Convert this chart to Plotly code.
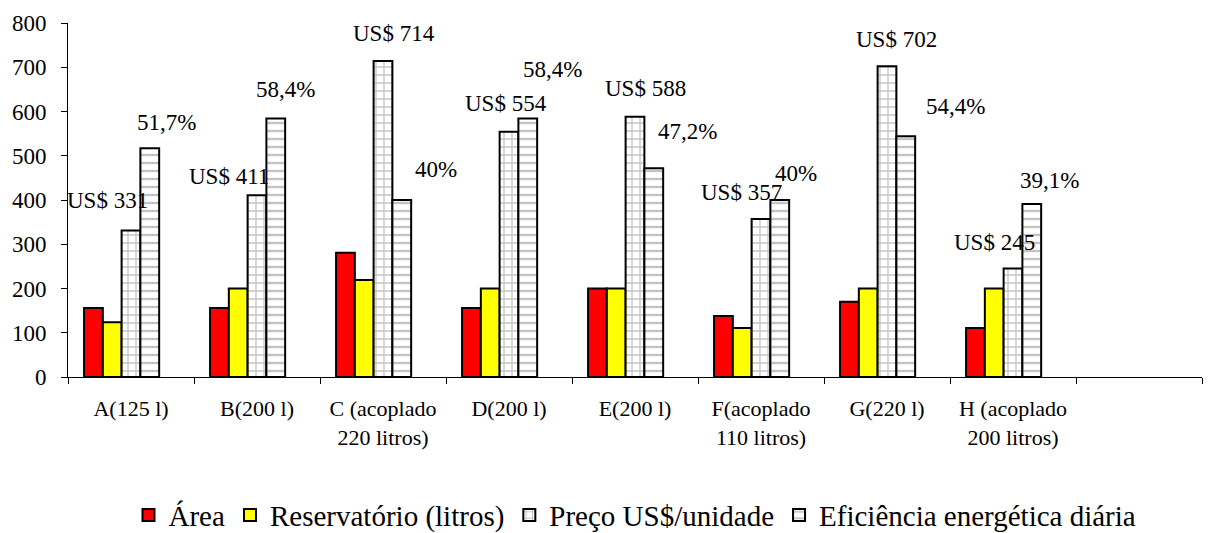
import plotly.graph_objects as go

categories = ["A(125 l)", "B(200 l)", "C (acoplado<br>220 litros)", "D(200 l)", "E(200 l)",
              "F(acoplado<br>110 litros)", "G(220 l)", "H (acoplado<br>200 litros)", " "]
area = [156, 156, 281, 156, 200, 138, 170, 111]
reservatorio = [124, 200, 219, 200, 200, 111, 200, 200]
preco = [331, 411, 714, 554, 588, 357, 702, 245]
eficiencia = [517, 584, 400, 584, 472, 400, 544, 391]
preco_labels = ["US$ 331", "US$ 411", "US$ 714", "US$ 554", "US$ 588", "US$ 357", "US$ 702", "US$ 245"]
efic_labels = ["51,7%", "58,4%", "40%", "58,4%", "47,2%", "40%", "54,4%", "39,1%"]

FONT = "Liberation Serif, Times New Roman, serif"
cats = categories[:8]

fig = go.Figure()
fig.add_trace(go.Bar(name="Área", x=cats, y=area, marker=dict(color="#ff0000", line=dict(color="black", width=2))))
fig.add_trace(go.Bar(name="Reservatório (litros)", x=cats, y=reservatorio, marker=dict(color="#ffff00", line=dict(color="black", width=2))))
fig.add_trace(go.Bar(name="Preço US$/unidade", x=cats, y=preco,
                     marker=dict(color="white", line=dict(color="black", width=2),
                                 pattern=dict(shape="+", fgcolor="#888888", bgcolor="white", size=8, solidity=0.3))))
fig.add_trace(go.Bar(name="Eficiência energética diária", x=cats, y=eficiencia,
                     marker=dict(color="white", line=dict(color="black", width=2),
                                 pattern=dict(shape="-", fgcolor="#888888", bgcolor="white", size=8, solidity=0.3))))
fig.add_trace(go.Bar(x=[" "], y=[None], showlegend=False, hoverinfo="skip"))

# label placement offsets (pixel x shift relative to category centre, y offset relative to bar value)
preco_pos = [(-24, 67), (-28, 43), (11, 63), (-3, 65), (10, 65), (-20, 61), (9, 60), (-19, 60)]
efic_pos = [(35, 59), (28, 65), (53, 68), (43, 110), (52, 82), (35, 59), (68, 68), (36, 54)]
for i in range(8):
    dx, dy = preco_pos[i]
    fig.add_annotation(x=i, y=preco[i] + dy, xref="x", yref="y", text=preco_labels[i], showarrow=False,
                       xshift=dx, font=dict(family=FONT, size=23, color="black"))
    dx, dy = efic_pos[i]
    fig.add_annotation(x=i, y=eficiencia[i] + dy, xref="x", yref="y", text=efic_labels[i], showarrow=False,
                       xshift=dx, font=dict(family=FONT, size=23, color="black"))

fig.update_layout(
    width=1204, height=525,
    margin=dict(l=60, r=10, t=15, b=156, autoexpand=False),
    paper_bgcolor="white", plot_bgcolor="white",
    barmode="group", bargap=0.255, bargroupgap=0,
    font=dict(family=FONT, size=22, color="black"),
    showlegend=True,
    legend=dict(orientation="h", x=0.5, xanchor="center", xref="paper", y=0.034, yanchor="middle",
                yref="container", font=dict(family=FONT, size=29, color="black"), itemwidth=30,
                traceorder="normal", tracegroupgap=0),
    xaxis=dict(type="category", categoryorder="array", categoryarray=categories, range=[-0.5, 8.5],
               showline=True, linecolor="black", linewidth=1, ticks="outside", tickson="boundaries",
               ticklen=6, tickcolor="black", showgrid=False, automargin=False, ticklabelstandoff=12,
               tickfont=dict(family=FONT, size=22, color="black")),
    yaxis=dict(range=[0, 800], dtick=100, showline=True, linecolor="black", linewidth=1,
               ticks="outside", ticklen=6, tickcolor="black", showgrid=False, zeroline=False, automargin=False,
               ticklabelstandoff=10, tickfont=dict(family=FONT, size=23, color="black")),
)
fig.write_html("out.html")
